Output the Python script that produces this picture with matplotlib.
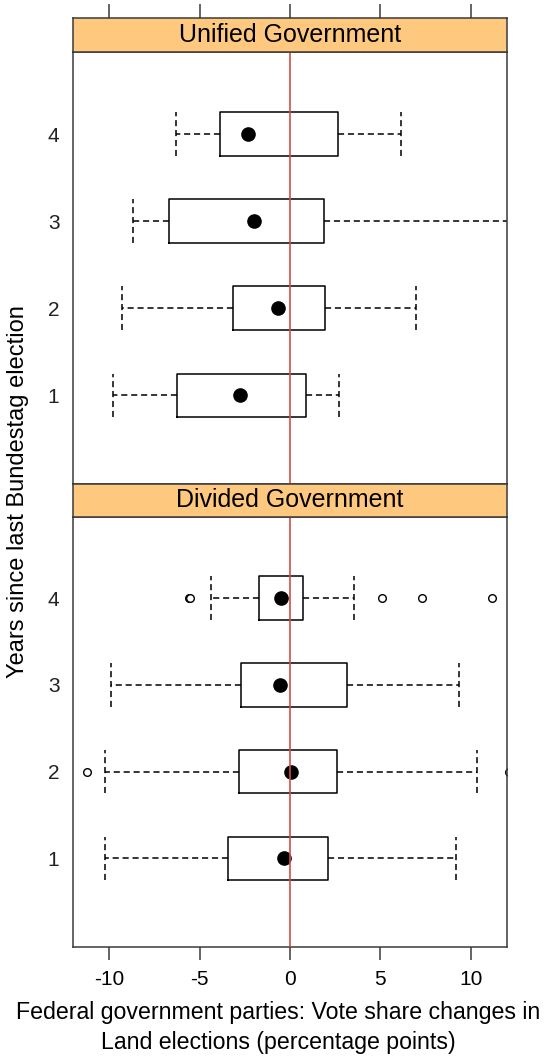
import matplotlib.pyplot as plt

plt.rcParams['font.family'] = ['Liberation Sans', 'DejaVu Sans']
plt.rcParams['axes.unicode_minus'] = False

years = [1, 2, 3, 4]
year_labels = ['1', '2', '3', '4']
xticks = [-10, -5, 0, 5, 10]

# Unified government panel
uni_lo = [-9.81, -9.32, -8.69, -6.31]
uni_q1 = [-6.24, -3.17, -6.68, -3.88]
uni_med = [-2.76, -0.68, -1.97, -2.32]
uni_q3 = [0.88, 1.95, 1.88, 2.67]
uni_hi = [2.73, 6.96, 13.0, 6.12]
uni_out = [[], [], [], []]

# Divided government panel
div_lo = [-10.27, -10.27, -9.89, -4.36]
div_q1 = [-3.44, -2.80, -2.72, -1.73]
div_med = [-0.33, 0.04, -0.55, -0.48]
div_q3 = [2.10, 2.60, 3.17, 0.74]
div_hi = [9.19, 10.35, 9.34, 3.57]
div_out = [[], [-11.23, 12.15], [], [-5.62, -5.52, 5.12, 7.29, 11.16]]

W, H = 553, 1064
fig = plt.figure(figsize=(W / 100, H / 100), dpi=100)

frame = '#3a3a3a'
strip_col = '#fec97f'
ref_col = '#cf4f47'


def rect(x0, y0, x1, y1):
    # pixel box (top-left origin) -> figure fraction
    return [x0 / W, 1 - y1 / H, (x1 - x0) / W, (y1 - y0) / H]


def panel(y_top, y_bot, s_top, title, lo, q1, med, q3, hi, out, bottom):
    ax = fig.add_axes(rect(73.3, y_top, 506.7, y_bot))
    stats = [dict(whislo=a, q1=b, med=c, q3=d, whishi=e, fliers=f)
             for a, b, c, d, e, f in zip(lo, q1, med, q3, hi, out)]
    ax.bxp(stats, positions=years, widths=0.5, capwidths=0.5,
           orientation='horizontal', manage_ticks=False,
           boxprops=dict(color='black', lw=1.1),
           whiskerprops=dict(color='black', lw=1.1, ls=(0, (4, 2.5))),
           capprops=dict(color='black', lw=1.1, ls=(0, (4, 2.5))),
           medianprops=dict(lw=0),
           flierprops=dict(marker='o', markersize=5.5, markerfacecolor='white',
                           markeredgecolor='black', markeredgewidth=1.0))
    ax.plot(med, years, 'o', color='black', markersize=9.5, zorder=4)
    ax.axvline(0, color=ref_col, lw=1.2, zorder=5)
    ax.set_xlim(-12, 12)
    ax.set_ylim(-0.02, 4.94)
    ax.set_yticks(years)
    ax.set_yticklabels(year_labels, fontsize=15, color='#222222')
    ax.tick_params(axis='y', length=0, pad=10)
    for s in ax.spines.values():
        s.set_color(frame)
        s.set_linewidth(1.1)
    if bottom:
        ax.set_xticks(xticks)
        ax.tick_params(axis='x', direction='out', length=9, width=1.1,
                       color=frame, labelsize=15, pad=8)
    else:
        ax.set_xticks([])

    st = fig.add_axes(rect(73.3, s_top, 506.7, y_top))
    st.set_facecolor(strip_col)
    st.set_xlim(-12, 12)
    st.set_yticks([])
    st.text(0.5, 0.5, title, transform=st.transAxes, ha='center',
            va='center', fontsize=18, color='black')
    for s in st.spines.values():
        s.set_color(frame)
        s.set_linewidth(1.1)
    if not bottom:
        st.set_xticks(xticks)
        st.tick_params(axis='x', top=True, bottom=False, labeltop=False,
                       labelbottom=False, direction='out', length=10,
                       width=1.1, color=frame)
    else:
        st.set_xticks([])
    return ax


panel(52.1, 484.3, 17.7, 'Unified Government',
      uni_lo, uni_q1, uni_med, uni_q3, uni_hi, uni_out, False)
panel(516.6, 946.7, 484.3, 'Divided Government',
      div_lo, div_q1, div_med, div_q3, div_hi, div_out, True)

fig.text(278 / W, 1 - 1012.5 / H,
         'Federal government parties: Vote share changes in',
         ha='center', va='center', fontsize=16.7)
fig.text(278 / W, 1 - 1042 / H, 'Land elections (percentage points)',
         ha='center', va='center', fontsize=16.7)
fig.text(18 / W, 1 - 492 / H, 'Years since last Bundestag election',
         ha='center', va='center', rotation=90, fontsize=17)

fig.savefig('out.png', dpi=100)
